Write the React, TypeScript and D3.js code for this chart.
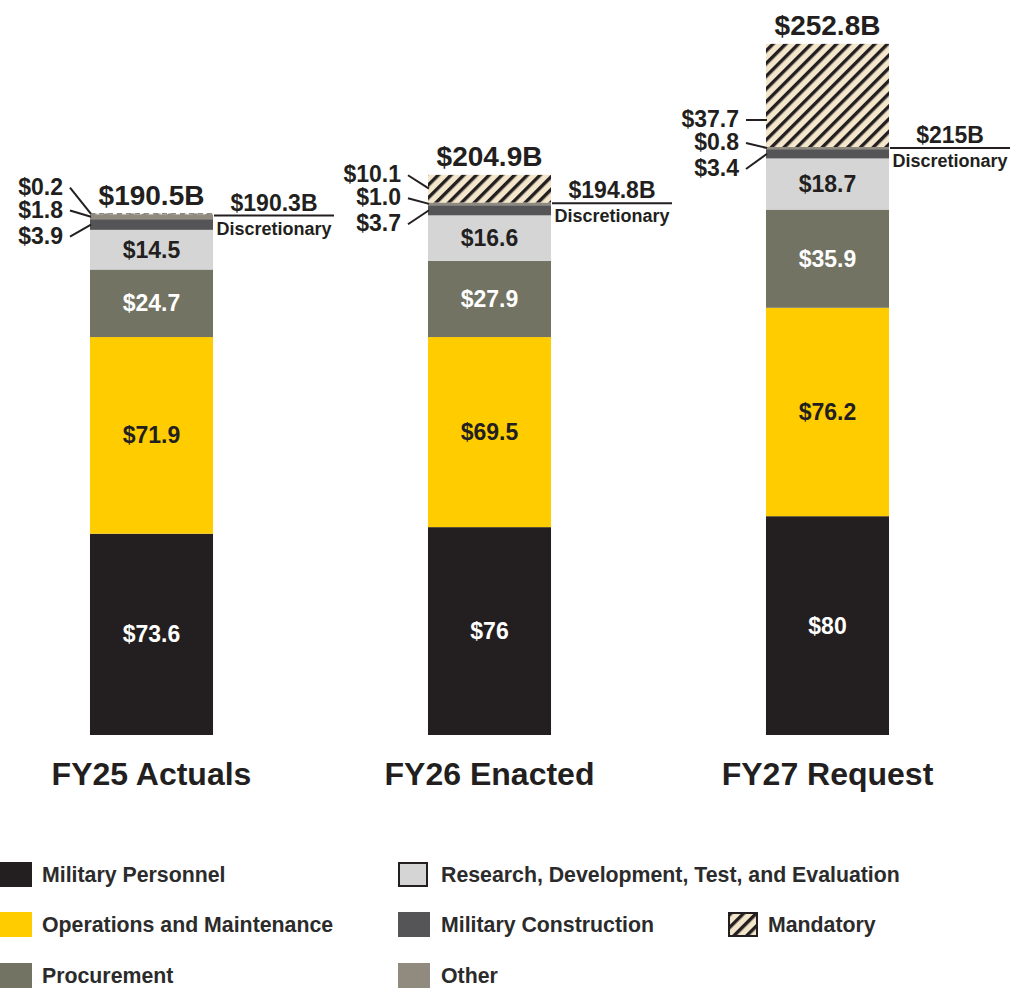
import React from "react";
import * as d3 from "d3";

const categories = ["FY25 Actuals", "FY26 Enacted", "FY27 Request"];
const militaryPersonnel = [73.6, 76, 80];
const operationsMaintenance = [71.9, 69.5, 76.2];
const procurement = [24.7, 27.9, 35.9];
const rdte = [14.5, 16.6, 18.7];
const militaryConstruction = [3.9, 3.7, 3.4];
const other = [1.8, 1.0, 0.8];
const mandatory = [0.2, 10.1, 37.7];
const totals = [190.5, 204.9, 252.8];
const discretionaryTotals = [190.3, 194.8, 215.0];

const keys = ["mp", "om", "proc", "rdte", "milcon", "other", "mand"];
const seriesValues: Record<string, number[]> = {
  mp: militaryPersonnel,
  om: operationsMaintenance,
  proc: procurement,
  rdte: rdte,
  milcon: militaryConstruction,
  other: other,
  mand: mandatory,
};
const fills: Record<string, string> = {
  mp: "#231f20",
  om: "#ffcc00",
  proc: "#727363",
  rdte: "#d5d5d6",
  milcon: "#555557",
  other: "#918a7e",
  mand: "url(#hatch)",
};
const labelColors: Record<string, string> = {
  mp: "#ffffff",
  om: "#231f20",
  proc: "#ffffff",
  rdte: "#231f20",
};

const legendItems = [
  { key: "mp", label: "Military Personnel", col: 0, row: 0 },
  { key: "om", label: "Operations and Maintenance", col: 0, row: 1 },
  { key: "proc", label: "Procurement", col: 0, row: 2 },
  { key: "rdte", label: "Research, Development, Test, and Evaluation", col: 1, row: 0 },
  { key: "milcon", label: "Military Construction", col: 1, row: 1 },
  { key: "other", label: "Other", col: 1, row: 2 },
  { key: "mand", label: "Mandatory", col: 2, row: 1 },
];

const FONT = "'Liberation Sans', Arial, Helvetica, sans-serif";
const INK = "#231f20";

const fmtBig = (v: number) => (Number.isInteger(v) ? `$${v}` : `$${v.toFixed(1)}`);
const fmtSmall = (v: number) => `$${v.toFixed(1)}`;
const fmtTotal = (v: number) => (Number.isInteger(v) ? `$${v}B` : `$${v.toFixed(1)}B`);

export default function App() {
  const W = 1027;
  const H = 988;
  const rows = categories.map((c, i) => {
    const r: any = { cat: c };
    keys.forEach((k) => (r[k] = seriesValues[k][i]));
    return r;
  });
  const stacked = d3.stack<any>().keys(keys)(rows);

  const x = d3
    .scaleBand<string>()
    .domain(categories)
    .range([-17.5, 996.5])
    .paddingInner(0.636)
    .paddingOuter(0.318);
  const y = d3.scaleLinear().domain([0, 250]).range([735, 51.25]);
  const bw = x.bandwidth();

  const legendColX = [0, 398, 728];
  const legendTextX = [42, 441, 768];
  const legendRowY = [862, 912, 963];

  return (
    <svg
      width={W}
      height={H}
      style={{ position: "absolute", left: 0, top: 0, background: "#fff" }}
      fontFamily={FONT}
      fontWeight="bold"
    >
      <defs>
        <pattern
          id="hatch"
          patternUnits="userSpaceOnUse"
          width={9}
          height={9}
          patternTransform="rotate(45)"
        >
          <rect width={9} height={9} fill="#f3e6cb" />
          <rect x={0} y={0} width={3.4} height={9} fill={INK} />
        </pattern>
      </defs>

      {/* bars */}
      {stacked.map((s) =>
        s.map((d, i) => {
          const x0 = x(categories[i])!;
          const top = y(d[1]);
          const bottom = y(d[0]);
          const h = bottom - top;
          const k = s.key as string;
          return (
            <g key={k + i}>
              <rect x={x0} y={top} width={bw} height={Math.max(h, 0)} fill={fills[k]} />
              {k === "mand" && h < 2 && (
                <line
                  x1={x0}
                  x2={x0 + bw}
                  y1={top}
                  y2={top}
                  stroke="#8a8a8a"
                  strokeWidth={1.5}
                  strokeDasharray="5,4"
                />
              )}
              {labelColors[k] && (
                <text
                  x={x0 + bw / 2}
                  y={(top + bottom) / 2}
                  dy="0.35em"
                  textAnchor="middle"
                  fontSize={23}
                  fill={labelColors[k]}
                >
                  {fmtBig(seriesValues[k][i])}
                </text>
              )}
            </g>
          );
        })
      )}

      {/* small segment callouts */}
      {categories.map((c, i) => {
        const x0 = x(c)!;
        const yd = y(discretionaryTotals[i]);
        const callouts = [
          { k: "mand", off: -20 },
          { k: "other", off: 3 },
          { k: "milcon", off: 29 },
        ];
        return (
          <g key={"co" + i}>
            {callouts.map(({ k, off }) => {
              const s = stacked.find((ss) => ss.key === k)!;
              const seg = s[i];
              const top = y(seg[1]);
              const bottom = y(seg[0]);
              const base = yd + off;
              const ly = base - 7;
              const ty = bottom - top > 60 ? ly : (top + bottom) / 2;
              return (
                <g key={k}>
                  <text x={x0 - 27} y={base} textAnchor="end" fontSize={23} fill={INK}>
                    {fmtSmall(seriesValues[k][i])}
                  </text>
                  <line x1={x0 - 20} y1={ly} x2={x0 + 1} y2={ty} stroke={INK} strokeWidth={2} />
                </g>
              );
            })}
            {/* discretionary bracket */}
            <line
              x1={x0 + bw + 1}
              x2={x0 + bw + 121}
              y1={yd + 1}
              y2={yd + 1}
              stroke={INK}
              strokeWidth={2}
            />
            <text x={x0 + bw + 61} y={yd - 4} textAnchor="middle" fontSize={23} fill={INK}>
              {fmtTotal(discretionaryTotals[i])}
            </text>
            <text x={x0 + bw + 61} y={yd + 20} textAnchor="middle" fontSize={18} fill={INK}>
              Discretionary
            </text>
            {/* total */}
            <text
              x={x0 + bw / 2}
              y={y(totals[i]) - 9}
              textAnchor="middle"
              fontSize={28}
              fill={INK}
            >
              {fmtTotal(totals[i])}
            </text>
            {/* category */}
            <text x={x0 + bw / 2} y={785} textAnchor="middle" fontSize={32} fill={INK}>
              {c}
            </text>
          </g>
        );
      })}

      {/* legend */}
      {legendItems.map((it) => {
        const sx = legendColX[it.col];
        const sy = legendRowY[it.row];
        const bordered = it.key === "rdte" || it.key === "mand";
        return (
          <g key={it.key}>
            <rect
              x={bordered ? sx + 1 : sx}
              y={bordered ? sy + 1 : sy}
              width={bordered ? 28 : 32}
              height={bordered ? 23 : 25}
              fill={fills[it.key]}
              stroke={bordered ? INK : "none"}
              strokeWidth={bordered ? 2 : 0}
            />
            <text x={legendTextX[it.col]} y={sy + 20} fontSize={21.3} fill="#2b2b2b">
              {it.label}
            </text>
          </g>
        );
      })}
    </svg>
  );
}
